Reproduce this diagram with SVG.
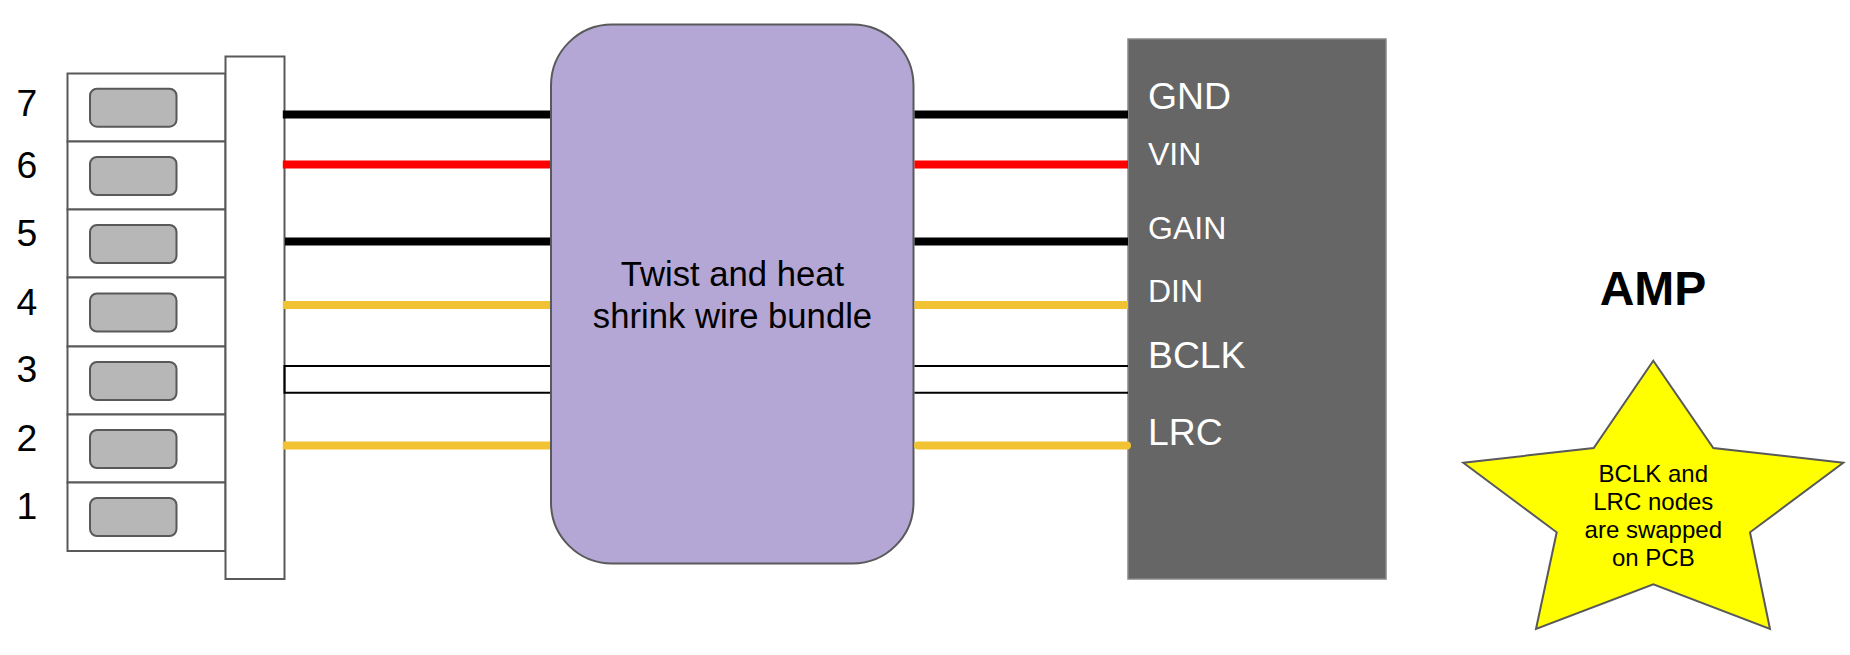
<svg xmlns="http://www.w3.org/2000/svg" width="1850" height="655" viewBox="0 0 1850 655">
<style>
text{font-family:"Liberation Sans",Arial,sans-serif;fill:#000}
.pin{fill:#fff;stroke:#595959;stroke-width:2}
.slot{fill:#b7b7b7;stroke:#595959;stroke-width:2}
.n{font-size:37.330px;text-anchor:middle}
.wire{fill:none;stroke-width:8;stroke-linecap:round}
.butt{stroke-linecap:butt}
.thin{fill:none;stroke:#000;stroke-width:2}
.k{stroke:#000}.r{stroke:#f00}.y{stroke:#f1c232}
text.lab{fill:#fff}
.big{font-size:37.330px}
.mid{font-size:32px}
.st{font-size:24px;text-anchor:middle}
.bt{font-size:34.670px;text-anchor:middle}
</style>
<rect width="1850" height="655" fill="#fff"/>
<g id="pin7"><rect class="pin" x="67.500" y="73.500" width="158" height="68"/><rect class="slot" x="90" y="88.700" width="86.500" height="38" rx="7"/><text class="n" x="27" y="116">7</text></g>
<g id="pin6"><rect class="pin" x="67.500" y="141.500" width="158" height="68"/><rect class="slot" x="90" y="157" width="86.500" height="38" rx="7"/><text class="n" x="27" y="178">6</text></g>
<g id="pin5"><rect class="pin" x="67.500" y="209.500" width="158" height="68"/><rect class="slot" x="90" y="225" width="86.500" height="38" rx="7"/><text class="n" x="27" y="246">5</text></g>
<g id="pin4"><rect class="pin" x="67.500" y="277.500" width="158" height="69"/><rect class="slot" x="90" y="293.500" width="86.500" height="38" rx="7"/><text class="n" x="27" y="315">4</text></g>
<g id="pin3"><rect class="pin" x="67.500" y="346.500" width="158" height="68"/><rect class="slot" x="90" y="362" width="86.500" height="38" rx="7"/><text class="n" x="27" y="382">3</text></g>
<g id="pin2"><rect class="pin" x="67.500" y="414.500" width="158" height="68"/><rect class="slot" x="90" y="430" width="86.500" height="38" rx="7"/><text class="n" x="27" y="451">2</text></g>
<g id="pin1"><rect class="pin" x="67.500" y="482.500" width="158" height="68.500"/><rect class="slot" x="90" y="498" width="86.500" height="38" rx="7"/><text class="n" x="27" y="519">1</text></g>
<g id="housing"><rect class="pin" x="225.500" y="56.500" width="59" height="522.500"/></g>
<g id="bundle"><rect x="551" y="24.500" width="362.500" height="539" rx="61" fill="#b4a7d6" stroke="#595959" stroke-width="2"/><text class="bt" x="732.500" y="286">Twist and heat</text><text class="bt" x="732.500" y="328">shrink wire bundle</text></g>
<g id="amp"><rect x="1128" y="39" width="258" height="540" fill="#666" stroke="#888" stroke-width="1.500"/>
<text class="lab big" x="1148" y="109">GND</text>
<text class="lab mid" x="1148" y="165">VIN</text>
<text class="lab mid" x="1148" y="239">GAIN</text>
<text class="lab mid" x="1148" y="302">DIN</text>
<text class="lab big" x="1148" y="368">BCLK</text>
<text class="lab big" x="1148" y="445">LRC</text></g>
<g id="title"><text x="1653" y="305" font-size="48" font-weight="700" text-anchor="middle">AMP</text></g>
<g id="note"><polygon points="1653.300,360.700 1713.300,448 1843.300,462.700 1750,532.300 1770,629 1653.300,584.300 1536,629 1556.700,532.300 1463.300,462.700 1593.700,448" fill="#ff0" stroke="#595959" stroke-width="2"/>
<text class="st" x="1653.300" y="482.300">BCLK and</text><text class="st" x="1653.300" y="510.300">LRC nodes</text><text class="st" x="1653.300" y="538.300">are swapped</text><text class="st" x="1653.300" y="566.300">on PCB</text></g>
<g id="connectors">
<path class="wire k butt" d="M282.800 114.500H550"/><path class="wire r butt" d="M282.800 164.500H550"/><path class="wire k butt" d="M285 241.500H550"/><path class="wire y butt" d="M282.800 305H550"/><path class="wire y butt" d="M282.800 445.500H550"/>
<path class="thin" d="M550 366H284.500V392.700H550"/>
<path class="wire k butt" d="M914.500 114.500H1128"/><path class="wire r butt" d="M914.500 164.500H1128"/><path class="wire k butt" d="M914.500 241.500H1128"/><path class="wire y butt" d="M914.500 305H1128"/>
<path class="thin" d="M914.500 366H1128M914.500 392.700H1128"/>
<path class="wire y" d="M918 445.500H1127"/>
</g>
</svg>
